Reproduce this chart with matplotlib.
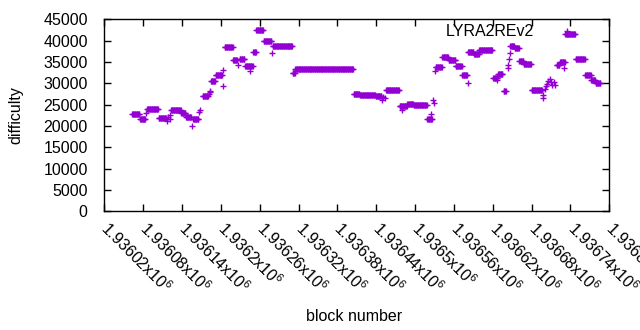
import numpy as np
import matplotlib
matplotlib.use("Agg")
import matplotlib.pyplot as plt
from matplotlib.ticker import FuncFormatter, MultipleLocator

plt.rcParams['font.family'] = ['Liberation Sans', 'DejaVu Sans']
plt.rcParams['mathtext.default'] = 'regular'
plt.rcParams['font.size'] = 11.5

BASE = 1936020
series_name = "LYRA2REv2"

# runs of blocks with the same difficulty (offset from BASE)
run_first = [43, 55, 65, 66, 84, 97, 99, 101, 102, 103, 119, 126, 135, 137, 147, 148,
             152, 161, 163, 164, 165, 172, 183, 184, 186, 199, 206, 209, 218, 225,
             230, 235, 246, 259, 260, 291, 295, 385, 395, 419, 429, 431, 433, 435,
             456, 460, 468, 478, 499, 505, 508, 509, 511, 512, 522, 532, 543, 553,
             561, 562, 571, 579, 601, 606, 608, 617, 623, 624, 625, 626, 627, 634,
             641, 648, 660, 677, 678, 680, 682, 684, 686, 688, 690, 692, 694, 696,
             699, 704, 710, 712, 728, 743, 752, 759]
run_last = [54, 63, 65, 83, 95, 97, 99, 101, 102, 118, 125, 134, 135, 145, 147, 148,
            160, 161, 163, 164, 171, 182, 183, 184, 198, 205, 206, 216, 229, 225,
            234, 245, 258, 259, 290, 294, 384, 394, 418, 428, 429, 431, 433, 455,
            467, 460, 477, 498, 506, 505, 508, 509, 511, 521, 531, 542, 552, 560,
            561, 570, 578, 599, 607, 606, 615, 620, 623, 624, 625, 626, 633, 640,
            647, 659, 676, 677, 678, 680, 682, 684, 686, 688, 690, 692, 694, 696,
            703, 711, 710, 727, 742, 751, 758, 766]
run_diff = [22700, 21600, 23000, 23900, 21800, 21200, 22100, 22600, 21600, 23700, 22950, 22200,
            20000, 21650, 23300, 23700, 27100, 27500, 27900, 28100, 30500, 31900, 29400, 33100,
            38400, 35500, 34300, 35600, 34100, 32900, 37300, 42400, 39800, 37000, 38700, 32400,
            33300, 27400, 27200, 26950, 26200, 26700, 26500, 28350, 24750, 23800, 25150, 24850,
            21650, 22700, 26000, 25500, 32900, 33750, 36100, 35400, 34000, 31900, 30000, 37300,
            36900, 37750, 31300, 30700, 32100, 28200, 33500, 34300, 35600, 37000, 38800, 38200,
            35200, 34500, 28350, 27200, 26500, 28700, 29300, 29800, 30500, 30900, 30300, 29700,
            30200, 29500, 34200, 35000, 33500, 41600, 35700, 31900, 30700, 30000]

blocks = []
diffs = []
for a, b, d in zip(run_first, run_last, run_diff):
    for k in range(a, b + 1):
        blocks.append(BASE + k)
        diffs.append(d)

fig = plt.figure(figsize=(6.4, 3.3), dpi=100)
ax = fig.add_axes([0.163, 0.3597, 0.789, 0.5818])

ax.plot(blocks, diffs, linestyle='none', marker='+', ms=5, mew=1,
        color='#9400D3', label=series_name)

ax.set_xlim(1936020, 1936800)
ax.set_ylim(0, 45000)
ax.xaxis.set_major_locator(MultipleLocator(60))
ax.yaxis.set_major_locator(MultipleLocator(5000))
ax.xaxis.set_major_formatter(FuncFormatter(lambda v, p: f"{v / 1e6:.6g}x10$^{{6}}$"))

ax.tick_params(direction='in', length=5, width=1, top=True, right=True,
               labelsize=11.5, colors='black')
ax.tick_params(axis='y', pad=12)
ax.tick_params(axis='x', pad=10)
for lab in ax.get_xticklabels():
    lab.set_rotation(-45)
    lab.set_ha('left')
    lab.set_va('center')
    lab.set_rotation_mode('anchor')

for s in ax.spines.values():
    s.set_linewidth(1)

ax.set_xlabel("block number", fontsize=11.5)
ax.set_ylabel("difficulty", fontsize=11.5)
ax.xaxis.set_label_coords(0.495, -0.51)
ax.yaxis.set_label_coords(-0.161, 0.5)

ax.legend(loc='upper right', bbox_to_anchor=(0.957, 0.973), frameon=False,
          markerfirst=False, handlelength=2.6, handletextpad=0.75, borderpad=0,
          borderaxespad=0, fontsize=11.5)

fig.savefig("out.png", dpi=100)
